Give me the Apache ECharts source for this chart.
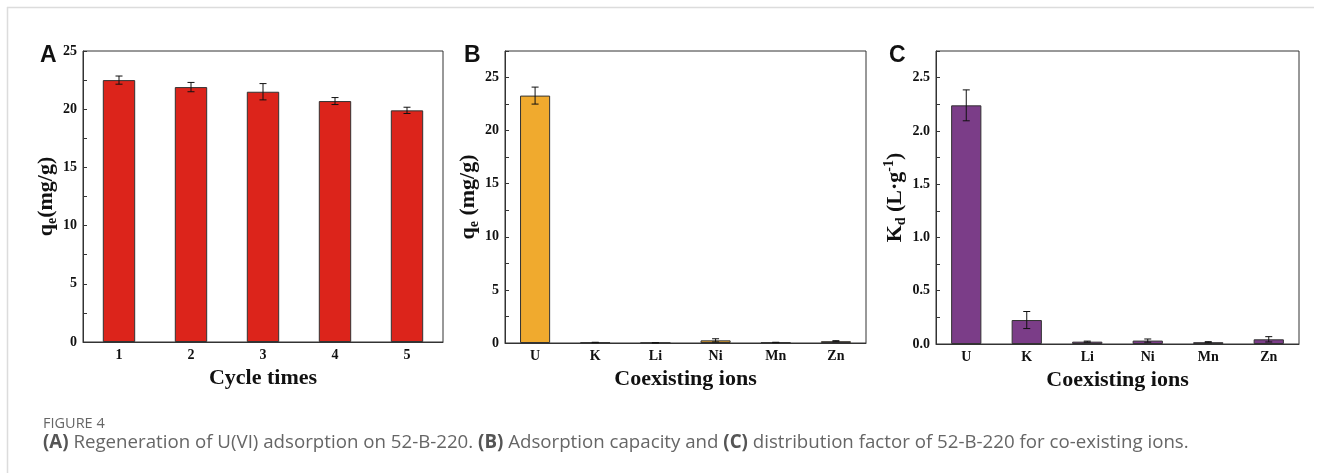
<!DOCTYPE html>
<html>
<head>
<meta charset="utf-8">
<title>Figure 4</title>
<script src="https://cdn.jsdelivr.net/npm/echarts@6/dist/echarts.min.js"></script>
<style>
html, body { margin: 0; padding: 0; background: #fff; }
#fig { width: 1319px; height: 473px; }
</style>
</head>
<body>
<div id="fig"></div>
<script>
// panel A: regeneration cycles
var cycles = ['1', '2', '3', '4', '5'];
var cycleQe = [22.5, 21.9, 21.5, 20.7, 19.9];
var cycleErr = [0.35, 0.4, 0.7, 0.3, 0.27];

// panels B and C: coexisting ions
var ions = ['U', 'K', 'Li', 'Ni', 'Mn', 'Zn'];
var ionQe = [23.3, 0.05, 0.02, 0.25, 0.05, 0.17];
var ionQeErr = [0.8, 0.02, 0.01, 0.15, 0.02, 0.05];
var ionKd = [2.24, 0.225, 0.022, 0.032, 0.017, 0.044];
var ionKdErr = [0.145, 0.08, 0.005, 0.015, 0.005, 0.025];

var chart = echarts.init(document.getElementById('fig'));

var SERIF = 'Liberation Serif';
var nameRich = {
    a: { fontFamily: SERIF, fontWeight: 'bold', fontSize: 22, lineHeight: 26, color: '#111' },
    s: { fontFamily: SERIF, fontWeight: 'bold', fontSize: 14, lineHeight: 14, verticalAlign: 'bottom', color: '#111' },
    p: { fontFamily: SERIF, fontWeight: 'bold', fontSize: 14, lineHeight: 14, verticalAlign: 'top', color: '#111' }
};

function xAx(idx, cats, name) {
    return {
        gridIndex: idx, type: 'category', data: cats,
        name: name, nameLocation: 'middle', nameGap: 20,
        nameTextStyle: { fontFamily: SERIF, fontWeight: 'bold', fontSize: 22, color: '#111', verticalAlign: 'top' },
        axisLine: { lineStyle: { color: '#333', width: 1 } },
        axisTick: { show: false },
        axisLabel: { fontFamily: SERIF, fontWeight: 'bold', fontSize: 14, color: '#111', margin: 6 }
    };
}

function yAx(idx, max, step, labelStep, digits, name, gap) {
    return {
        gridIndex: idx, type: 'value', min: 0, max: max, interval: step,
        name: name, nameLocation: 'middle', nameGap: gap, nameRotate: 90,
        nameTextStyle: { rich: nameRich },
        axisLine: { show: true, lineStyle: { color: '#333', width: 1 } },
        axisTick: { show: true, inside: true, length: 4, lineStyle: { color: '#333' } },
        splitLine: { show: false },
        axisLabel: {
            fontFamily: SERIF, fontWeight: 'bold', fontSize: 14, color: '#111', margin: 6,
            formatter: function (v) {
                var r = v / labelStep;
                if (Math.abs(r - Math.round(r)) > 1e-6) return '';
                return v.toFixed(digits);
            }
        }
    };
}

function errSeries(idx, vals, errs) {
    return {
        type: 'custom', xAxisIndex: idx, yAxisIndex: idx, z: 5,
        data: vals.map(function (v, i) { return [i, v, errs[i]]; }),
        renderItem: function (params, api) {
            var x = api.value(0), v = api.value(1), e = api.value(2);
            var hi = api.coord([x, v + e]);
            var lo = api.coord([x, v - e]);
            var cap = 3.5;
            var st = { stroke: '#111', lineWidth: 1 };
            return {
                type: 'group',
                children: [
                    { type: 'line', shape: { x1: hi[0], y1: hi[1], x2: lo[0], y2: lo[1] }, style: st },
                    { type: 'line', shape: { x1: hi[0] - cap, y1: hi[1], x2: hi[0] + cap, y2: hi[1] }, style: st },
                    { type: 'line', shape: { x1: lo[0] - cap, y1: lo[1], x2: lo[0] + cap, y2: lo[1] }, style: st }
                ]
            };
        }
    };
}

function barSeries(idx, vals, color, width) {
    return {
        type: 'bar', xAxisIndex: idx, yAxisIndex: idx, data: vals, barWidth: width,
        itemStyle: { color: color, borderColor: '#333', borderWidth: 1 },
        silent: true
    };
}

var letterStyle = { fontFamily: 'Liberation Sans', fontWeight: 'bold', fontSize: 23, color: '#111' };

chart.setOption({
    animation: false,
    title: [
        { text: 'A', left: 35, top: 39, textStyle: letterStyle },
        { text: 'B', left: 459, top: 39, textStyle: letterStyle },
        { text: 'C', left: 884, top: 39, textStyle: letterStyle },
        { text: 'FIGURE 4', left: 38, top: 411,
          textStyle: { fontFamily: 'Open Sans', fontWeight: 'normal', fontSize: 14.5, color: '#666' } },
        { text: '{b|(A)} Regeneration of U(VI) adsorption on 52-B-220. {b|(B)} Adsorption capacity and {b|(C)} distribution factor of 52-B-220 for co-existing ions.',
          left: 38, top: 428,
          textStyle: { fontFamily: 'Open Sans', fontWeight: 'normal', fontSize: 18.7, color: '#666',
              rich: { b: { fontFamily: 'Open Sans', fontWeight: 'bold', fontSize: 18.7, color: '#555' } } } }
    ],
    graphic: [
        { type: 'line', shape: { x1: 7, y1: 7.5, x2: 1314, y2: 7.5 }, style: { stroke: '#dcdcdc', lineWidth: 1.5 } },
        { type: 'line', shape: { x1: 7.5, y1: 7, x2: 7.5, y2: 473 }, style: { stroke: '#dcdcdc', lineWidth: 1.5 } }
    ],
    grid: [
        { left: 83, top: 51, width: 360, height: 291, show: true, borderColor: '#333', borderWidth: 1 },
        { left: 505, top: 51, width: 361, height: 292, show: true, borderColor: '#333', borderWidth: 1 },
        { left: 936, top: 51, width: 363, height: 293, show: true, borderColor: '#333', borderWidth: 1 }
    ],
    xAxis: [xAx(0, cycles, 'Cycle times'), xAx(1, ions, 'Coexisting ions'), xAx(2, ions, 'Coexisting ions')],
    yAxis: [
        yAx(0, 25, 2.5, 5, 0, '{a|q}{s|e}{a|(mg/g)}', 24),
        yAx(1, 27.5, 2.5, 5, 0, '{a|q}{s|e}{a| (mg/g)}', 22),
        yAx(2, 2.75, 0.25, 0.5, 1, '{a|K}{s|d}{a| (L·g}{p|-1}{a|)}', 28)
    ],
    series: [
        barSeries(0, cycleQe, '#dc241b', '45%'),
        errSeries(0, cycleQe, cycleErr),
        barSeries(1, ionQe, '#f0aa2e', '50%'),
        errSeries(1, ionQe, ionQeErr),
        barSeries(2, ionKd, '#7b3d88', '50%'),
        errSeries(2, ionKd, ionKdErr)
    ]
});
</script>
</body>
</html>
